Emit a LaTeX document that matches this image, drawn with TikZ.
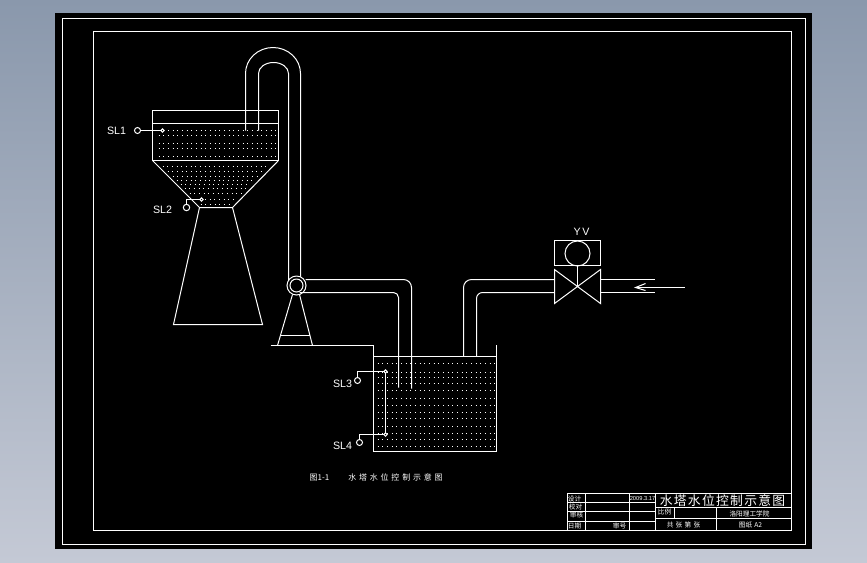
\documentclass[tikz,border=0pt]{standalone}
\usepackage{fontspec}
\setmainfont{Liberation Sans}
\newfontfamily\cjk{Noto Sans CJK SC}
\newfontfamily\cjkwide[LetterSpace=35]{Noto Sans CJK SC}
\newfontfamily\cjktitle[LetterSpace=10]{Noto Sans CJK SC}
\usetikzlibrary{positioning}
\definecolor{bgtop}{RGB}{138,152,172}
\definecolor{bgbottom}{RGB}{196,201,213}
\tikzset{
	cad/.style={draw=white, line width=0.75pt},
	waterdots/.style={draw=white, line width=0.75pt, dash pattern=on 0.75pt off 2.75pt},
	lbl/.style={text=white, font=\fontsize{8}{8}\selectfont, inner sep=0pt},
	tinylbl/.style={text=white, font=\cjk\fontsize{5}{6}\selectfont, inner sep=0pt},
}
\begin{document}
\begin{tikzpicture}[x=0.75pt, y=-0.75pt]
	\useasboundingbox (0,0) rectangle (867,562);
	\shade [top color=bgtop, bottom color=bgbottom] (0,0) rectangle (867,562);
	\fill [black] (55,13) rectangle (812,549);
	\begin{scope}[shift={(0.5,0.5)}]
	% frames
	\draw [cad] (62,18) rectangle (805,544);
	\draw [cad] (93,31) rectangle (791,530);
	% water
	\foreach \py in {130,135,143,148,156}
		\draw [waterdots] (158,\py) -- (275,\py);
	\foreach \py in {166,171,176,180,184,188,193,199,204}
		\draw [waterdots] ({\py-4},\py) -- ({434-\py},\py);
	\foreach \py in {363,372,377,383,390,398,405,412,418,426,433,439,446}
		\draw [waterdots] (377,\py) -- (494,\py);
	% upper tank and tower
	\draw [cad] (152,110) rectangle (278,160);
	\draw [cad] (152,123) -- (278,123);
	\draw [cad] (152,160) -- (199,207) -- (232,207) -- (278,160);
	\draw [cad] (199,207) -- (173,324) -- (262,324) -- (232,207);
	% rising pipe
	\draw [cad] (245,130) -- (245,73) arc (180:360:27.5 and 26) -- (300,277);
	\draw [cad] (258,130) -- (258,73) arc (180:360:15 and 11) -- (288,285);
	% pump
	\draw [fill=black, cad] (296,285) circle (9.5);
	\draw [cad] (296,285) circle (6.5);
	\draw [cad] (292,294) -- (277,345);
	\draw [cad] (299,294) -- (312,345);
	\draw [cad] (280,335) -- (309,335);
	% ground
	\draw [cad] (270,345) -- (373,345) -- (373,451) -- (496,451) -- (496,344);
	\draw [cad] (373,356) -- (496,356);
	% pump to lower tank
	\draw [cad] (305,279) -- (403,279) arc (270:360:8) -- (411,388);
	\draw [cad] (299,292) -- (393,292) arc (270:360:5) -- (398,387);
	% lower tank to valve
	\draw [cad] (463,356) -- (463,287) arc (180:270:8) -- (554,279);
	\draw [cad] (476,356) -- (476,298) arc (180:270:6) -- (554,292);
	% valve
	\draw [cad] (554,240) rectangle (600,265);
	\draw [cad] (577,253) circle (12.5);
	\draw [cad] (577,265) -- (577,286);
	\draw [cad] (554,269) -- (600,303) -- (600,269) -- (554,303) -- cycle;
	\draw [cad] (600,279) -- (654,279);
	\draw [cad] (600,292) -- (654,292);
	% flow arrow
	\draw [cad] (684,287) -- (635,287);
	\draw [cad] (645,283) -- (635,287) -- (645,290);
	\node [lbl] (yv) at (581,231) {Y\,V};
	% level sensors
	\node [lbl] (slone) at (116,130) {SL1};
	\draw [cad] (137,130) circle (3);
	\draw [cad] (140,130) -- (160.5,130);
	\draw [cad] (162,130) circle (1.7);
	\node [lbl] (sltwo) at (162,209) {SL2};
	\draw [cad] (186,207) circle (3.2);
	\draw [cad] (186,204) -- (186,199) -- (199.5,199);
	\draw [cad] (201,199) circle (1.7);
	\node [lbl] (slthree) at (342,383) {SL3};
	\draw [cad] (357,380) circle (3);
	\draw [cad] (357,377) -- (357,371) -- (383.5,371);
	\draw [cad] (385,371) circle (1.7);
	\node [lbl] (slfour) at (342,445) {SL4};
	\draw [cad] (359,442) circle (3);
	\draw [cad] (359,439) -- (359,434) -- (383.5,434);
	\draw [cad] (385,434) circle (1.7);
	\draw [cad] (385,372.7) -- (385,432.3);
	% caption
	\node [tinylbl, font=\cjk\fontsize{6}{6}\selectfont] (capnum) at (319,477) {图1-1};
	\node [tinylbl, font=\cjkwide\fontsize{6}{6}\selectfont] (captext) at (395,477) {水塔水位控制示意图};
	% title block
	\draw [cad] (567,493) rectangle (791,530);
	\draw [cad] (567,502) -- (655,502);
	\draw [cad] (567,511) -- (655,511);
	\draw [cad] (567,521) -- (655,521);
	\draw [cad] (585,493) -- (585,530);
	\draw [cad] (629,493) -- (629,530);
	\draw [cad] (655,493) -- (655,530);
	\draw [cad] (655,507) -- (791,507);
	\draw [cad] (655,518) -- (791,518);
	\draw [cad] (674,507) -- (674,518);
	\draw [cad] (716,507) -- (716,530);
	\node [tinylbl] (design) at (574,498) {设计};
	\node [tinylbl] (check) at (575,506) {校对};
	\node [tinylbl] (review) at (576,514) {审核};
	\node [tinylbl] (datelbl) at (574,526) {日期};
	\node [tinylbl] (number) at (619,525) {审号};
	\node [tinylbl, font=\fontsize{4.3}{5}\selectfont] (datetxt) at (642,498) {2009.3.17};
	\node [tinylbl] (scale) at (664,511) {比例};
	\node [tinylbl] (school) at (749,513) {洛阳理工学院};
	\node [tinylbl] (sheets) at (683,524) {共\,\,张\,\,第\,\,张};
	\node [tinylbl] (paper) at (750,524) {图纸\,\,A2};
	\node [tinylbl, font=\cjktitle\fontsize{9.6}{10}\selectfont] (title) at (722,500) {水塔水位控制示意图};
	\end{scope}
\end{tikzpicture}
\end{document}
